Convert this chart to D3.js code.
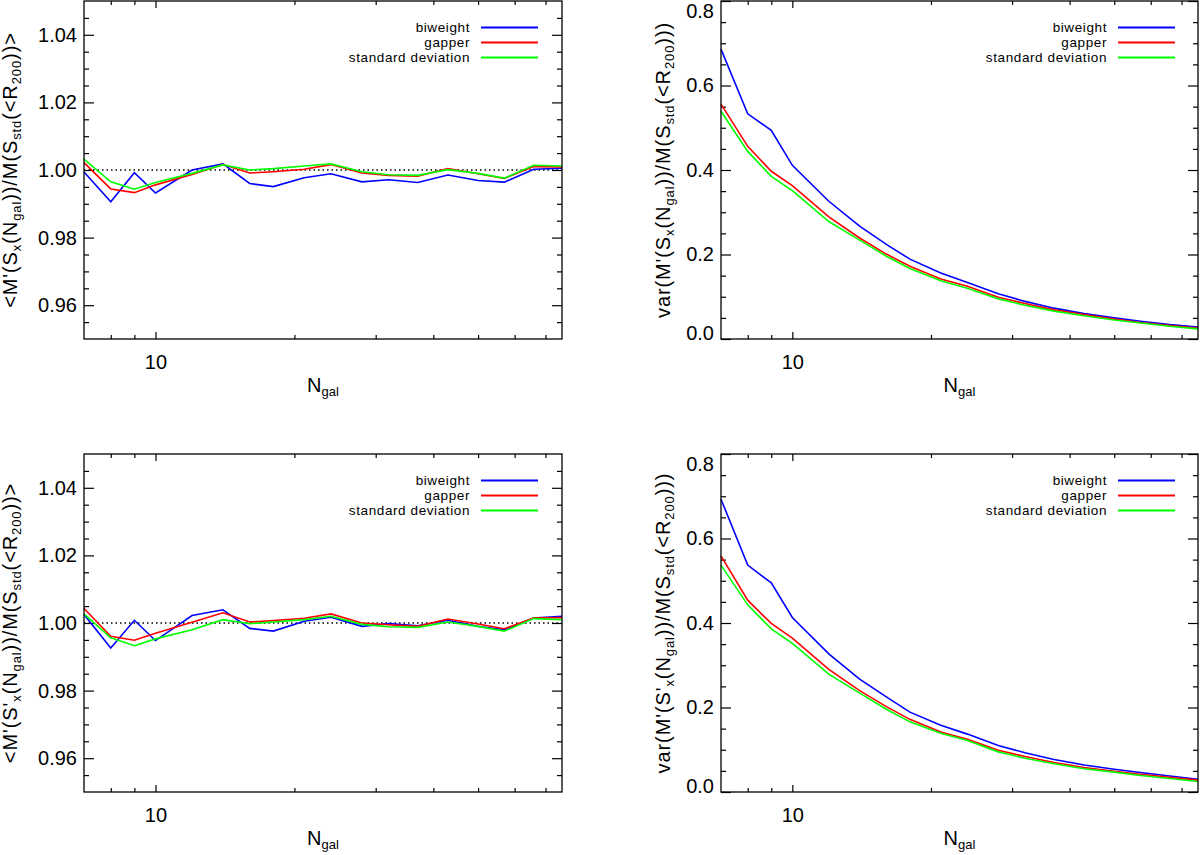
<!DOCTYPE html>
<html>
<head>
<meta charset="utf-8">
<script src="https://cdn.jsdelivr.net/npm/d3@7"></script>
<style>
  body { margin: 0; background: #fff; }
  text { font-family: "Liberation Sans", Arial, sans-serif; fill: #000; }
</style>
</head>
<body>
<div class="chart"></div>
<script>
let FRAME_WIDTH = 1200;
let FRAME_HEIGHT = 855;

// number of galaxies (x values, shared by every panel)
const NGAL = [7, 8, 9, 10, 12, 14, 16, 18, 21, 24, 28, 32, 37, 43, 50, 57, 66, 76];

// top left: <M'(Sx(Ngal))/M(Sstd(<R200))>
const MEAN_SX_BIWEIGHT = [0.9994, 0.9906, 0.9992, 0.9932, 1.0000, 1.0018, 0.9960, 0.9951, 0.9977,
                          0.9989, 0.9965, 0.9971, 0.9963, 0.9985, 0.9969, 0.9964, 1.0002, 1.0005];
const MEAN_SX_GAPPER   = [1.0022, 0.9944, 0.9933, 0.9956, 0.9987, 1.0016, 0.9991, 0.9995, 1.0002,
                          1.0016, 0.9991, 0.9984, 0.9982, 1.0004, 0.9989, 0.9975, 1.0010, 1.0009];
const MEAN_SX_STD      = [1.0032, 0.9965, 0.9943, 0.9963, 0.9990, 1.0015, 1.0000, 1.0004, 1.0012,
                          1.0018, 0.9995, 0.9986, 0.9984, 1.0001, 0.9990, 0.9976, 1.0014, 1.0012];

// bottom left: <M'(S'x(Ngal))/M(Sstd(<R200))>
const MEAN_SPX_BIWEIGHT = [1.0025, 0.9926, 1.0008, 0.9948, 1.0022, 1.0039, 0.9984, 0.9976, 1.0005,
                           1.0017, 0.9990, 0.9998, 0.9992, 1.0008, 0.9990, 0.9980, 1.0015, 1.0020];
const MEAN_SPX_GAPPER   = [1.0043, 0.9961, 0.9949, 0.9970, 1.0002, 1.0030, 1.0003, 1.0007, 1.0014,
                           1.0027, 1.0000, 0.9995, 0.9990, 1.0012, 0.9997, 0.9983, 1.0015, 1.0016];
const MEAN_SPX_STD      = [1.0027, 0.9956, 0.9933, 0.9953, 0.9980, 1.0010, 0.9998, 1.0003, 1.0010,
                           1.0020, 0.9996, 0.9989, 0.9987, 1.0003, 0.9990, 0.9976, 1.0013, 1.0010];

// top right: var(M'(Sx(Ngal))/M(Sstd(<R200)))
const VAR_SX_BIWEIGHT = [0.686, 0.533, 0.494, 0.411, 0.326, 0.267, 0.224, 0.189, 0.156,
                         0.134, 0.107, 0.089, 0.073, 0.060, 0.050, 0.042, 0.034, 0.028];
const VAR_SX_GAPPER   = [0.556, 0.456, 0.397, 0.363, 0.289, 0.239, 0.201, 0.172, 0.142,
                         0.125, 0.099, 0.084, 0.069, 0.058, 0.047, 0.039, 0.032, 0.026];
const VAR_SX_STD      = [0.539, 0.444, 0.385, 0.351, 0.278, 0.234, 0.196, 0.167, 0.138,
                         0.120, 0.095, 0.080, 0.066, 0.055, 0.045, 0.038, 0.030, 0.024];

// bottom right: var(M'(S'x(Ngal))/M(Sstd(<R200)))
const VAR_SPX_BIWEIGHT = [0.693, 0.537, 0.495, 0.413, 0.327, 0.267, 0.225, 0.189, 0.158,
                          0.137, 0.110, 0.093, 0.077, 0.064, 0.054, 0.046, 0.038, 0.030];
const VAR_SPX_GAPPER   = [0.559, 0.454, 0.399, 0.364, 0.290, 0.240, 0.202, 0.172, 0.142,
                          0.125, 0.099, 0.084, 0.070, 0.058, 0.049, 0.042, 0.035, 0.028];
const VAR_SPX_STD      = [0.537, 0.443, 0.386, 0.352, 0.279, 0.234, 0.196, 0.166, 0.139,
                          0.122, 0.095, 0.080, 0.067, 0.055, 0.047, 0.039, 0.032, 0.025];

const SERIES_NAMES = ["biweight", "gapper", "standard deviation"];
const SERIES_COLORS = ["#0000ff", "#ff0000", "#00ff00"];

// axis ticks
const X_DOMAIN = [7, 76];
const X_MAJOR_TICKS = [10];
const X_MINOR_TICKS = [8, 9, 20, 30, 40, 50, 60, 70];
const MEAN_DOMAIN = [0.95, 1.05];
const MEAN_MAJOR_TICKS = [0.96, 0.98, 1.00, 1.02, 1.04];
const MEAN_MINOR_TICKS = [0.955, 0.965, 0.97, 0.975, 0.985, 0.99, 0.995, 1.005, 1.01, 1.015,
                          1.025, 1.03, 1.035, 1.045];
const VAR_DOMAIN = [0, 0.8];
const VAR_MAJOR_TICKS = [0.0, 0.2, 0.4, 0.6, 0.8];
const VAR_MINOR_TICKS = [0.05, 0.1, 0.15, 0.25, 0.3, 0.35, 0.45, 0.5, 0.55, 0.65, 0.7, 0.75];

let SVG = d3.select(".chart")
            .append("svg")
            .attr("width", FRAME_WIDTH)
            .attr("height", FRAME_HEIGHT);

SVG.append("rect")
   .attr("width", FRAME_WIDTH)
   .attr("height", FRAME_HEIGHT)
   .attr("fill", "#fff");

// pieces of the rotated y titles: [text, isSubscript]
function yTitleParts(prefix, primeS) {
    return [[prefix + "M'(S" + (primeS ? "'" : ""), false], ["x", true], ["(N", false], ["gal", true],
            ["))/M(S", false], ["std", true], ["(<R", false], ["200", true],
            [prefix === "<" ? "))>" : ")))", false]];
}

function drawPanel(p) {
    let X_SCALE = d3.scaleLog().domain(X_DOMAIN).range([p.x0, p.x1]);
    let Y_SCALE = d3.scaleLinear().domain(p.yDomain).range([p.y1, p.y0]);

    let G = SVG.append("g");

    // ticks pointing inward on all four sides
    function tidy(sel) {
        sel.select(".domain").remove();
        sel.attr("font-family", null).attr("font-size", 20);
        sel.selectAll(".tick line").attr("stroke-width", 1.2);
    }

    G.append("g")
     .attr("transform", "translate(" + p.x0 + ",0)")
     .call(d3.axisLeft(Y_SCALE).tickValues(p.yMajor).tickSize(-10).tickPadding(7)
             .tickFormat(d3.format(p.yFormat)))
     .call(tidy)
     .selectAll(".tick text")
       .attr("dy", (d) => { return d === p.yDomain[1] ? "0.8em" : (d === p.yDomain[0] ? "0.02em" : "0.32em"); });

    G.append("g")
     .attr("transform", "translate(" + p.x0 + ",0)")
     .call(d3.axisLeft(Y_SCALE).tickValues(p.yMinor).tickSize(-5).tickFormat(""))
     .call(tidy);

    G.append("g")
     .attr("transform", "translate(" + p.x1 + ",0)")
     .call(d3.axisRight(Y_SCALE).tickValues(p.yMajor).tickSize(-10).tickFormat(""))
     .call(tidy);

    G.append("g")
     .attr("transform", "translate(" + p.x1 + ",0)")
     .call(d3.axisRight(Y_SCALE).tickValues(p.yMinor).tickSize(-5).tickFormat(""))
     .call(tidy);

    G.append("g")
     .attr("transform", "translate(0," + p.y1 + ")")
     .call(d3.axisBottom(X_SCALE).tickValues(X_MAJOR_TICKS).tickSize(-7).tickPadding(16)
             .tickFormat(d3.format("d")))
     .call(tidy);

    G.append("g")
     .attr("transform", "translate(0," + p.y1 + ")")
     .call(d3.axisBottom(X_SCALE).tickValues(X_MINOR_TICKS).tickSize(-4).tickFormat(""))
     .call(tidy);

    G.append("g")
     .attr("transform", "translate(0," + p.y0 + ")")
     .call(d3.axisTop(X_SCALE).tickValues(X_MAJOR_TICKS).tickSize(-7).tickFormat(""))
     .call(tidy);

    G.append("g")
     .attr("transform", "translate(0," + p.y0 + ")")
     .call(d3.axisTop(X_SCALE).tickValues(X_MINOR_TICKS).tickSize(-4).tickFormat(""))
     .call(tidy);

    // dotted reference line at 1
    if (p.refLine !== undefined) {
        G.append("line")
         .attr("x1", p.x0).attr("x2", p.x1)
         .attr("y1", Y_SCALE(p.refLine)).attr("y2", Y_SCALE(p.refLine))
         .attr("stroke", "#000")
         .attr("stroke-width", 1.3)
         .attr("stroke-dasharray", "1.5,3");
    }

    // data lines
    let line = d3.line()
                 .x((d, i) => { return X_SCALE(NGAL[i]); })
                 .y((d) => { return Y_SCALE(d); });

    p.series.forEach((s, i) => {
        G.append("path")
         .datum(s)
         .attr("d", line)
         .attr("fill", "none")
         .attr("stroke", SERIES_COLORS[i])
         .attr("stroke-width", 1.6)
         .attr("stroke-linejoin", "miter");
    });

    // frame
    G.append("rect")
     .attr("x", p.x0).attr("y", p.y0)
     .attr("width", p.x1 - p.x0).attr("height", p.y1 - p.y0)
     .attr("fill", "none")
     .attr("stroke", "#000")
     .attr("stroke-width", 1.3);

    // legend
    SERIES_NAMES.forEach((name, i) => {
        let ly = p.y0 + 26.5 + 15 * i;
        G.append("text")
         .attr("x", p.x0 + 386)
         .attr("y", ly + 4.5)
         .attr("text-anchor", "end")
         .style("font-size", "13.5px")
         .style("letter-spacing", "0.6px")
         .text(name);
        G.append("line")
         .attr("x1", p.x0 + 397).attr("x2", p.x0 + 454)
         .attr("y1", ly).attr("y2", ly)
         .attr("stroke", SERIES_COLORS[i])
         .attr("stroke-width", 2);
    });

    // x axis title
    let xt = G.append("text")
              .attr("x", (p.x0 + p.x1) / 2)
              .attr("y", p.y1 + 53)
              .attr("text-anchor", "middle")
              .style("font-size", "20px");
    xt.append("tspan").text("N");
    xt.append("tspan").attr("dy", 4).style("font-size", "13px").text("gal");

    // y axis title (rotated)
    let yt = G.append("text")
              .attr("transform", "translate(" + p.titleX + "," + ((p.y0 + p.y1) / 2) + ") rotate(-90)")
              .attr("text-anchor", "middle")
              .style("font-size", "20px")
              .style("letter-spacing", "0.9px");
    let shifted = false;
    p.title.forEach((part) => {
        let t = yt.append("tspan").text(part[0]);
        if (part[1] && !shifted) { t.attr("dy", 4).style("font-size", "13px"); shifted = true; }
        else if (part[1]) { t.style("font-size", "13px"); }
        else if (shifted) { t.attr("dy", -4); shifted = false; }
    });
}

let LEFT = {x0: 84, x1: 562};
let RIGHT = {x0: 721, x1: 1198};
let TOP = {y0: 1, y1: 339};
let BOTTOM = {y0: 454, y1: 792};

drawPanel(Object.assign({}, LEFT, TOP, {
    yDomain: MEAN_DOMAIN, yMajor: MEAN_MAJOR_TICKS, yMinor: MEAN_MINOR_TICKS, yFormat: ".2f",
    refLine: 1, titleX: 17, title: yTitleParts("<", false),
    series: [MEAN_SX_BIWEIGHT, MEAN_SX_GAPPER, MEAN_SX_STD]
}));

drawPanel(Object.assign({}, RIGHT, TOP, {
    yDomain: VAR_DOMAIN, yMajor: VAR_MAJOR_TICKS, yMinor: VAR_MINOR_TICKS, yFormat: ".1f",
    titleX: 670, title: yTitleParts("var(", false),
    series: [VAR_SX_BIWEIGHT, VAR_SX_GAPPER, VAR_SX_STD]
}));

drawPanel(Object.assign({}, LEFT, BOTTOM, {
    yDomain: MEAN_DOMAIN, yMajor: MEAN_MAJOR_TICKS, yMinor: MEAN_MINOR_TICKS, yFormat: ".2f",
    refLine: 1, titleX: 17, title: yTitleParts("<", true),
    series: [MEAN_SPX_BIWEIGHT, MEAN_SPX_GAPPER, MEAN_SPX_STD]
}));

drawPanel(Object.assign({}, RIGHT, BOTTOM, {
    yDomain: VAR_DOMAIN, yMajor: VAR_MAJOR_TICKS, yMinor: VAR_MINOR_TICKS, yFormat: ".1f",
    titleX: 670, title: yTitleParts("var(", true),
    series: [VAR_SPX_BIWEIGHT, VAR_SPX_GAPPER, VAR_SPX_STD]
}));
</script>
</body>
</html>
